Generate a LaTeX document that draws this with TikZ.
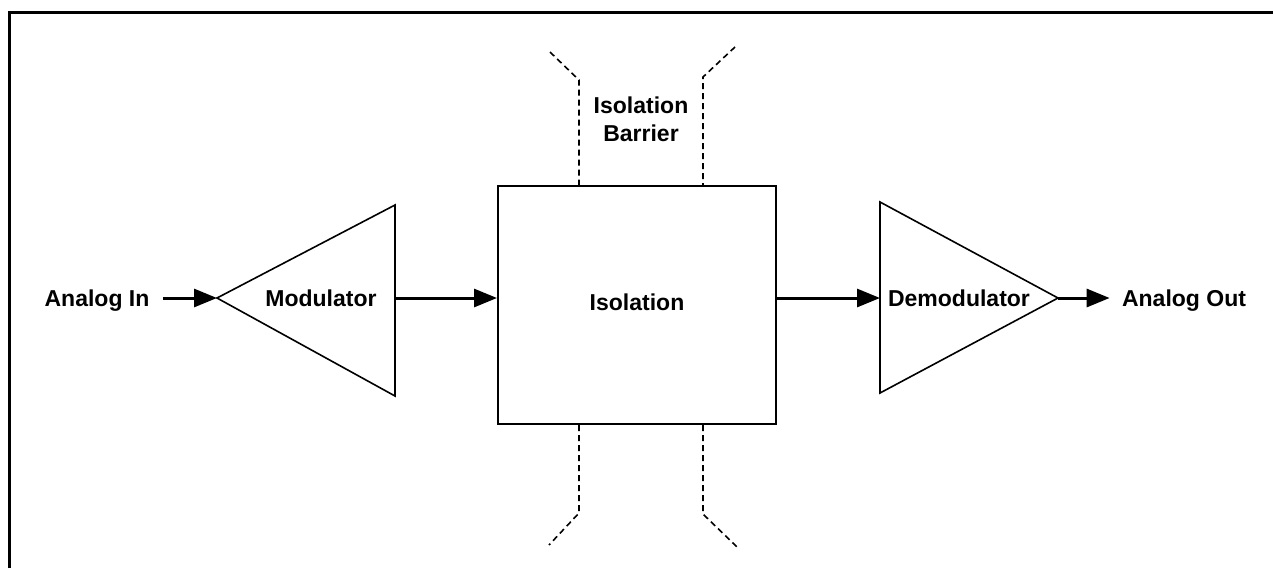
\documentclass[tikz,border=0pt]{standalone}
\usepackage{fontspec}
\setmainfont{Liberation Sans}
\usetikzlibrary{arrows.meta, positioning}
\tikzstyle{txt} = [font = \bfseries\fontsize{11.5}{14}\selectfont, inner sep = 0pt, anchor = base]
\tikzstyle{arr} = [line width = 1.5pt, -{Triangle[length = 11.5pt, width = 9pt]}]
\tikzstyle{amp} = [line width = 0.8pt, line join = miter]
\tikzstyle{barrier} = [line width = 0.8pt, dash pattern = on 3pt off 2pt]

\begin{document}
\begin{tikzpicture}[x = 0.5pt, y = -0.5pt]
        \useasboundingbox (0,0) rectangle (1273,568);
        \draw[line width = 1.5pt] (9,568) -- (9,12) -- (1273,12);

        % modulator
        \coordinate (modtip) at (217,298);
        \coordinate (modtop) at (395,205);
        \coordinate (modbot) at (395,396);
        \coordinate (modout) at (395,298);
        \draw[amp] (modtip) -- (modtop) -- (modbot) -- cycle;
        \node[txt] (mod) at (321,306) {Modulator};

        % isolation block
        \node[draw, line width = 1pt, minimum width = 139pt, minimum height = 119pt,
              inner sep = 0pt] (iso) at (637,305) {};
        \node[txt] (isotext) at (637,310) {Isolation};

        % demodulator
        \coordinate (demin) at (880,298);
        \coordinate (demtop) at (880,202);
        \coordinate (dembot) at (880,393);
        \coordinate (demtip) at (1058,298);
        \draw[amp] (demtop) -- (demtip) -- (dembot) -- cycle;
        \node[txt] (dem) at (959,306) {Demodulator};

        % signals
        \node[txt] (ain) at (97,306) {Analog In};
        \node[txt] (aout) at (1184,306) {Analog Out};
        \draw[arr, shorten <= 6.5pt] (ain.east |- modtip) -- (modtip);
        \draw[arr] (modout) -- (iso.west |- modout);
        \draw[arr] (iso.east |- demin) -- (demin);
        \draw[arr, shorten >= 6pt] (demtip) -- (aout.west |- demtip);

        % barrier
        \node[txt, align = center, anchor = center] (bar) at (641,119)
            {Isolation\\Barrier};
        \draw[barrier] (550,52) -- (579,80) -- (iso.north -| 579,0);
        \draw[barrier] (735,47) -- (703,77) -- (iso.north -| 703,0);
        \draw[barrier] (iso.south -| 579,0) -- (579,513) -- (549,545);
        \draw[barrier] (iso.south -| 703,0) -- (703,514) -- (737,547);
    \end{tikzpicture}
\end{document}
